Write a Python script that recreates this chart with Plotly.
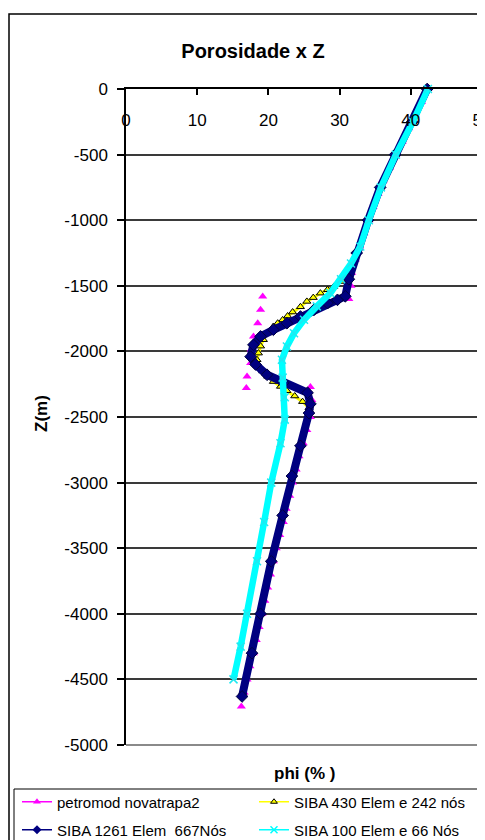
import plotly.graph_objects as go

# ---------------- data ----------------
X_TICKS = [0, 10, 20, 30, 40, 50]
Z_TICKS = [0, -500, -1000, -1500, -2000, -2500, -3000, -3500, -4000, -4500, -5000]
Z_TICKTEXT = ["0", "-500", "-1000", "-1500", "-2000", "-2500", "-3000", "-3500", "-4000", "-4500", "-5000"]

# petromod novatrapa2
petro_z = [0, -100, -200, -300, -400, -500, -600, -700, -800, -900, -1000, -1100, -1200, -1300, -1400, -1500, -1600,
           -1582, -1683, -1785, -1886, -1985, -2089, -2191, -2279,
           -2272, -2370, -2500, -2600, -2700, -2800, -2900, -3000, -3100, -3200, -3300, -3400, -3500, -3600,
           -3700, -3800, -3900, -4000, -4100, -4200, -4300, -4400, -4500, -4600, -4707]
petro_phi = [42.4, 41.5, 40.6, 39.7, 38.8, 37.9, 37.0, 36.1, 35.4, 34.7, 34.1, 33.4, 32.8, 32.2, 31.7, 31.6, 31.3,
             19.2, 18.9, 18.5, 17.9, 17.6, 17.5, 17.0, 16.9,
             25.9, 26.1, 25.9, 25.4, 24.9, 24.3, 23.9, 23.4, 23.0, 22.5, 22.1, 21.6, 21.1, 20.7,
             20.3, 19.9, 19.5, 19.1, 18.7, 18.3, 17.9, 17.4, 17.0, 16.6, 16.2]

# SIBA 430 Elem e 242 nós
s430_z = [0, -250, -500, -750, -1000, -1250, -1400, -1467, -1505, -1530, -1556, -1590, -1619, -1660, -1700, -1730,
          -1760, -1785, -1810, -1860, -1911, -1960, -2013, -2064, -2110, -2150, -2190, -2230, -2267, -2300, -2340,
          -2383, -2430, -2720, -2950, -3250, -3600, -4000, -4300, -4600]
s430_phi = [42.3, 40.2, 37.8, 35.7, 34.0, 32.4, 31.5, 30.1, 29.2, 28.3, 27.3, 26.3, 25.4, 24.5, 23.4, 22.7,
            22.0, 21.3, 20.7, 19.9, 19.3, 18.9, 18.6, 18.4, 18.7, 19.2, 19.9, 20.7, 21.7, 22.6, 23.7,
            24.8, 25.7, 24.5, 23.3, 22.0, 20.4, 18.9, 17.7, 16.4]

# SIBA 1261 Elem 667Nós
s1261_z = [0, -250, -500, -750, -1000, -1250, -1450, -1580, -1607, -1632, -1683, -1734, -1785, -1835, -1886,
           -1950, -2040, -2100, -2178, -2240, -2315, -2400, -2470, -2720, -2950, -3250, -3600, -4000, -4300, -4630]
s1261_phi = [42.3, 40.2, 37.8, 35.7, 34.0, 32.4, 31.3, 30.8, 29.7, 28.3, 26.4, 24.5, 22.6, 20.7, 18.9,
             17.9, 17.5, 18.2, 19.8, 22.1, 25.5, 25.9, 25.7, 24.5, 23.3, 22.0, 20.4, 18.9, 17.7, 16.3]

# SIBA 100 Elem e 66 Nós
s100_z = [0, -250, -500, -750, -1000, -1200, -1330, -1450, -1556, -1657, -1759, -1861, -1962, -2064, -2200,
          -2350, -2520, -2700, -3000, -3300, -3600, -4000, -4250, -4500]
s100_phi = [42.4, 40.3, 37.9, 35.8, 34.1, 32.9, 31.6, 30.2, 28.7, 26.8, 25.0, 23.6, 22.6, 21.9, 22.0,
            22.3, 22.3, 21.7, 20.4, 19.4, 18.4, 17.0, 16.1, 15.1]

SERIES_NAMES = ["petromod novatrapa2", "SIBA 430 Elem e 242 nós", "SIBA 1261 Elem  667Nós", "SIBA 100 Elem e 66 Nós"]

FONT = "Liberation Sans, Arial, sans-serif"
MAGENTA = "#FF00FF"
YELLOW = "#FFFF00"
NAVY = "#000080"
CYAN = "#00FFFF"

fig = go.Figure()

# --- plotted series (no legend) ---
fig.add_trace(go.Scatter(x=petro_phi, y=petro_z, mode="markers", showlegend=False, cliponaxis=False,
                         marker=dict(symbol="triangle-up", size=8, color=MAGENTA, line=dict(width=0))))
fig.add_trace(go.Scatter(x=s430_phi, y=s430_z, mode="lines+markers", showlegend=False, cliponaxis=False,
                         line=dict(color=YELLOW, width=3),
                         marker=dict(symbol="triangle-up", size=7, color=YELLOW, line=dict(color="black", width=1))))
fig.add_trace(go.Scatter(x=s1261_phi, y=s1261_z, mode="lines+markers", showlegend=False, cliponaxis=False,
                         line=dict(color=NAVY, width=8),
                         marker=dict(symbol="diamond", size=9, color=NAVY, line=dict(color="#000040", width=1))))
fig.add_trace(go.Scatter(x=s100_phi, y=s100_z, mode="lines+markers", showlegend=False, cliponaxis=False,
                         line=dict(color=CYAN, width=6.5),
                         marker=dict(symbol="x-thin", size=8, color=CYAN, line=dict(color="#20E8F0", width=1.5))))

# --- legend entries (two rows, two legends) ---
leg_styles = [
    dict(line=dict(color=MAGENTA, width=1.5), marker=dict(symbol="triangle-up", size=7, color=MAGENTA), legend="legend"),
    dict(line=dict(color=YELLOW, width=1.5), marker=dict(symbol="triangle-up", size=6, color=YELLOW,
                                                          line=dict(color="black", width=1)), legend="legend"),
    dict(line=dict(color=NAVY, width=1.5), marker=dict(symbol="diamond", size=7, color=NAVY), legend="legend2"),
    dict(line=dict(color=CYAN, width=1.5), marker=dict(symbol="x-thin", size=7, color=CYAN,
                                                        line=dict(color=CYAN, width=1.5)), legend="legend2"),
]
for name, st in zip(SERIES_NAMES, leg_styles):
    fig.add_trace(go.Scatter(x=[None], y=[None], mode="lines+markers", name=name, showlegend=True, **st))

# page body has an 8px default margin: positions below are page pixels, converted here
OFF = 8
W, H = 485 - OFF, 840 - OFF
L = 126 - OFF
T = 89 - OFF
R = W - (482 - OFF)
B = H - (745 - OFF)
PW, PH = W - L - R, H - T - B


def px_x(px):
    return (px - OFF - L) / PW


def px_y(py):
    return (H - B - (py - OFF)) / PH


leg_common = dict(orientation="h", xanchor="left", yanchor="middle", font=dict(family=FONT, size=15, color="black"),
                  bgcolor="rgba(0,0,0,0)", borderwidth=0, entrywidth=192, entrywidthmode="pixels",
                  itemclick=False, itemdoubleclick=False)

fig.update_layout(
    width=W, height=H, autosize=False,
    margin=dict(l=L, r=R, t=T, b=B, autoexpand=False),
    paper_bgcolor="white", plot_bgcolor="white",
    font=dict(family=FONT, color="black"),
    title=dict(text="<b>Porosidade x Z</b>", x=(253 - OFF) / W, xanchor="center", y=1 - (51 - OFF) / H,
               yanchor="middle", font=dict(family=FONT, size=20, color="black")),
    xaxis=dict(range=[0, 50], side="top", tickvals=X_TICKS, ticks="inside", ticklen=6, tickcolor="black",
               tickwidth=1.5, showline=True, linecolor="black", linewidth=1.5, showgrid=False, zeroline=False,
               ticklabelposition="inside", ticklabeloverflow="allow", ticklabelstandoff=20,
               tickfont=dict(family=FONT, size=17, color="black"), fixedrange=True, automargin=False),
    yaxis=dict(range=[-5000, 0], tickvals=Z_TICKS, ticktext=Z_TICKTEXT, ticks="outside", ticklen=7,
               tickcolor="black", tickwidth=1.5, showline=True, linecolor="black", linewidth=1.5,
               showgrid=True, gridcolor="#3a3a3a", gridwidth=1.5, zeroline=False, ticklabelstandoff=6,
               tickfont=dict(family=FONT, size=17, color="black"), fixedrange=True, automargin=False),
    legend=dict(x=px_x(17), y=px_y(802), **leg_common),
    legend2=dict(x=px_x(17), y=px_y(830), **leg_common),
    annotations=[
        dict(text="<b>phi (% )</b>", xref="paper", yref="paper", x=0.5, y=px_y(773), showarrow=False,
             xanchor="center", yanchor="middle", font=dict(family=FONT, size=17, color="black")),
        dict(text="<b>Z(m)</b>", xref="paper", yref="paper", x=px_x(41), y=px_y(414), showarrow=False,
             textangle=-90, xanchor="center", yanchor="middle", font=dict(family=FONT, size=17, color="black")),
    ],
    shapes=[
        # outer chart border
        dict(type="rect", xref="paper", yref="paper", x0=px_x(9), x1=px_x(520), y0=px_y(880), y1=px_y(14),
             line=dict(color="black", width=1.5), fillcolor="rgba(0,0,0,0)", layer="below"),
        # legend box
        dict(type="rect", xref="paper", yref="paper", x0=px_x(14), x1=px_x(520), y0=px_y(880), y1=px_y(789),
             line=dict(color="black", width=1), fillcolor="rgba(0,0,0,0)", layer="below"),
        # plot area border (right / bottom)
        dict(type="line", xref="paper", yref="paper", x0=1, x1=1, y0=0, y1=1, line=dict(color="#8a8a8a", width=2)),
        dict(type="line", xref="paper", yref="paper", x0=0, x1=1, y0=0, y1=0, line=dict(color="#8a8a8a", width=2)),
    ],
)

fig.write_html("out.html")
